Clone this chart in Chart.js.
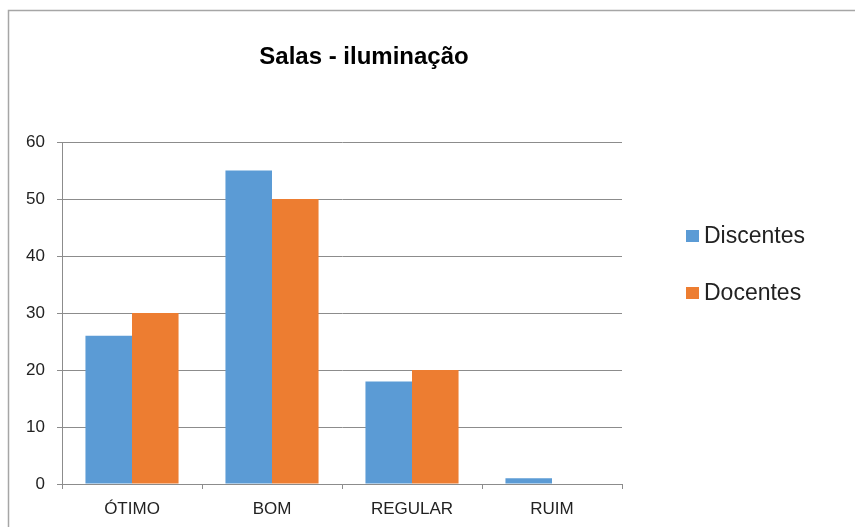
<!DOCTYPE html>
<html>
<head>
<meta charset="utf-8">
<script src="https://cdn.jsdelivr.net/npm/chart.js@4/dist/chart.umd.min.js"></script>
<style>
  html, body { margin: 0; padding: 0; background: #fff; }
  #wrap { width: 855px; height: 527px; position: relative; }
</style>
</head>
<body>
<div id="wrap"><canvas id="chart" width="855" height="527"></canvas></div>
<script>
// data
var categories = ['ÓTIMO', 'BOM', 'REGULAR', 'RUIM'];
var discentes = [26, 55, 18, 1];
var docentes = [30, 50, 20, 0];
var seriesNames = ['Discentes', 'Docentes'];
var seriesColors = ['#5B9BD5', '#ED7D31'];
var chartTitle = 'Salas - iluminação';

var gridColor = '#8c8c8c';
var labelFont = '"Liberation Sans", Arial, sans-serif';

// frame around the chart (top and left edges only are visible)
var framePlugin = {
    id: 'frame',
    beforeDraw: function (chart) {
        var ctx = chart.ctx;
        ctx.save();
        ctx.strokeStyle = '#a6a6a6';
        ctx.lineWidth = 1.5;
        ctx.beginPath();
        ctx.moveTo(8.5, 540);
        ctx.lineTo(8.5, 10.5);
        ctx.lineTo(870, 10.5);
        ctx.stroke();
        ctx.restore();
    }
};

// title and legend placed like the original
var textPlugin = {
    id: 'texts',
    afterDraw: function (chart) {
        var ctx = chart.ctx;
        ctx.save();
        ctx.fillStyle = '#000';
        ctx.font = 'bold 24px ' + labelFont;
        ctx.textAlign = 'center';
        ctx.textBaseline = 'middle';
        ctx.fillText(chartTitle, 364, 57);

        ctx.font = '23px ' + labelFont;
        ctx.textAlign = 'left';
        var ys = [236, 293];
        chart.data.datasets.forEach(function (ds, i) {
            ctx.fillStyle = ds.backgroundColor;
            ctx.fillRect(686, ys[i] - 6, 13, 12);
            ctx.fillStyle = '#222';
            ctx.fillText(ds.label, 704, ys[i] + 1);
        });
        ctx.restore();
    }
};

new Chart(document.getElementById('chart'), {
    type: 'bar',
    data: {
        labels: categories,
        datasets: [
            { label: seriesNames[0], data: discentes, backgroundColor: seriesColors[0] },
            { label: seriesNames[1], data: docentes, backgroundColor: seriesColors[1] }
        ]
    },
    options: {
        responsive: false,
        animation: false,
        layout: { padding: { left: 8, top: 142, right: 233, bottom: 0 } },
        datasets: {
            bar: { barPercentage: 1, categoryPercentage: 0.665 }
        },
        plugins: {
            legend: { display: false },
            title: { display: false },
            tooltip: { enabled: false }
        },
        scales: {
            x: {
                afterFit: function (scale) { scale.height = 43; },
                grid: {
                    offset: true,
                    drawOnChartArea: false,
                    drawTicks: true,
                    tickLength: 5,
                    color: gridColor
                },
                border: { display: true, color: gridColor, width: 1 },
                ticks: {
                    color: '#222',
                    padding: 10,
                    font: { family: labelFont, size: 17 }
                }
            },
            y: {
                min: 0,
                max: 60,
                afterFit: function (scale) { scale.width = 54; },
                ticks: {
                    stepSize: 10,
                    color: '#222',
                    padding: 12,
                    font: { family: labelFont, size: 17 }
                },
                grid: {
                    color: gridColor,
                    tickLength: 5,
                    drawTicks: true
                },
                border: { display: true, color: gridColor, width: 1 }
            }
        }
    },
    plugins: [framePlugin, textPlugin]
});
</script>
</body>
</html>
